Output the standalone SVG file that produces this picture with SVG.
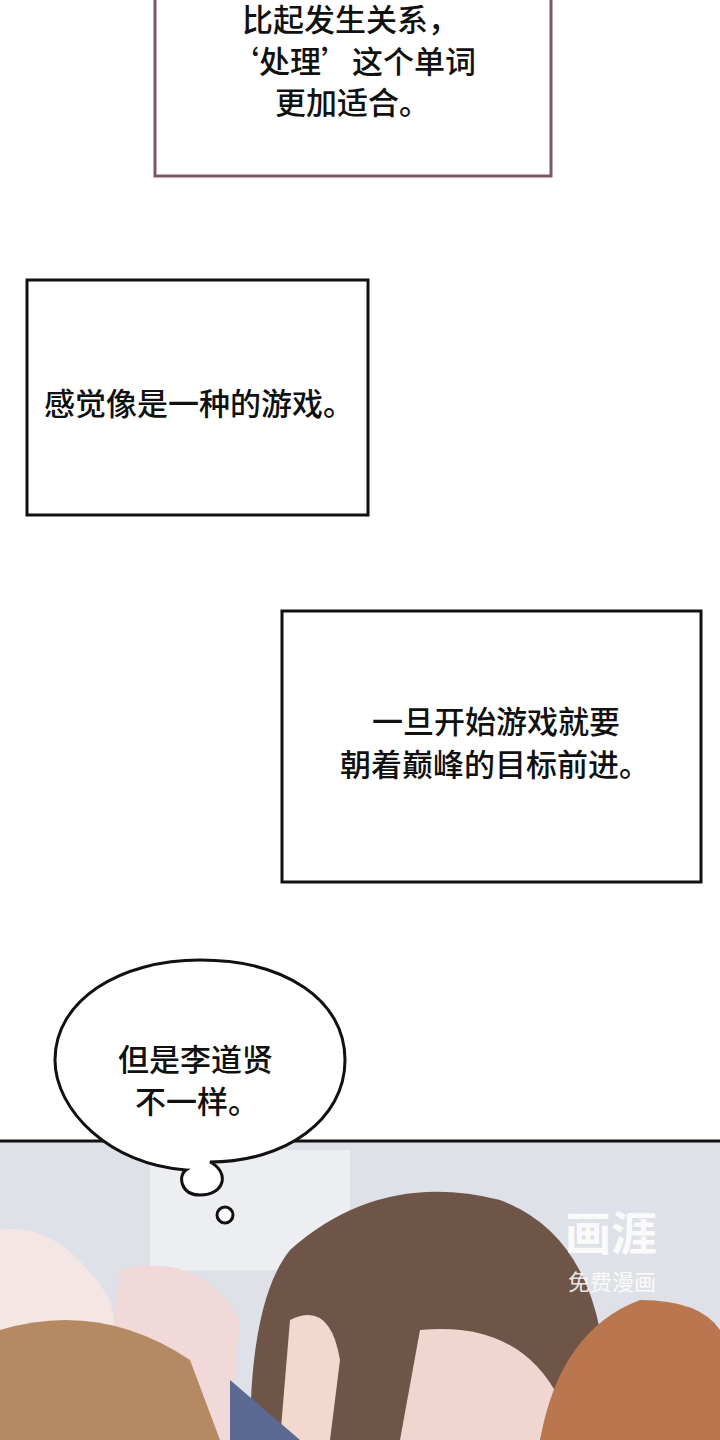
<svg xmlns="http://www.w3.org/2000/svg" width="720" height="1440" viewBox="0 0 720 1440">
<style>
.t{font-family:"Noto Sans CJK SC","Noto Sans",sans-serif;font-size:31px;fill:#111;font-weight:500}
.box{fill:#fff;stroke:#111;stroke-width:3}
</style>
<rect width="720" height="1440" fill="#fff"/>
<g id="box1"><rect x="155" y="-5" width="396" height="181" fill="#fff" stroke="#7a5866" stroke-width="3"/>
<text class="t" x="242" y="31">比起发生关系，</text>
<text class="t" x="228" y="73">‘处理’这个单词</text>
<text class="t" x="275" y="114">更加适合。</text></g>
<g id="box2"><rect class="box" x="27" y="280" width="341" height="235"/>
<text class="t" x="44" y="415">感觉像是一种的游戏。</text></g>
<g id="box3"><rect class="box" x="282" y="611" width="419" height="271"/>
<text class="t" x="372" y="733">一旦开始游戏就要</text>
<text class="t" x="340" y="776">朝着巅峰的目标前进。</text></g>
<g id="scene">
<rect x="0" y="1142" width="720" height="298" fill="#dfe1e8"/>
<rect x="150" y="1150" width="200" height="120" fill="#eceef2"/>
<path d="M0 1230 Q60 1220 110 1300 L140 1440 L0 1440Z" fill="#f3e6e4"/>
<path d="M120 1270 Q200 1250 240 1320 L230 1440 L100 1440Z" fill="#f0d9d8"/>
<path d="M0 1330 Q100 1300 190 1360 L220 1440 L0 1440Z" fill="#b58a63"/>
<path d="M250 1440 Q250 1300 290 1250 Q380 1170 500 1200 Q580 1230 600 1330 L600 1440Z" fill="#6e5548"/>
<path d="M290 1320 Q330 1300 340 1360 L330 1440 L280 1440Z" fill="#f2d8cf"/>
<path d="M420 1330 Q520 1320 560 1400 L540 1440 L400 1440Z" fill="#f1d6cf"/>
<path d="M230 1380 L300 1440 L230 1440Z" fill="#5b6a92"/>
<path d="M540 1440 Q560 1330 640 1300 Q700 1300 720 1330 L720 1440Z" fill="#b9764f"/>
<text x="565" y="1250" font-family="Noto Sans CJK SC,sans-serif" font-size="46" font-weight="700" fill="#fff" opacity="0.85">画涯</text>
<text x="568" y="1290" font-family="Noto Sans CJK SC,sans-serif" font-size="22" fill="#fff" opacity="0.85">免费漫画</text>
</g>
<line x1="0" y1="1141" x2="720" y2="1141" stroke="#111" stroke-width="3"/>
<g id="bubble">
<path d="M210 1162 C230 1172 225 1195 200 1195 C180 1195 178 1175 186 1170 C110 1165 55 1110 55 1060 C55 1000 120 960 200 960 C285 960 345 1000 345 1060 C345 1120 285 1162 210 1162 Z" fill="#fff" stroke="#111" stroke-width="3"/>
<circle cx="225" cy="1215" r="8" fill="#fff" stroke="#111" stroke-width="3"/>
<text class="t" x="118" y="1071">但是李道贤</text>
<text class="t" x="135" y="1113">不一样。</text>
</g>
</svg>
